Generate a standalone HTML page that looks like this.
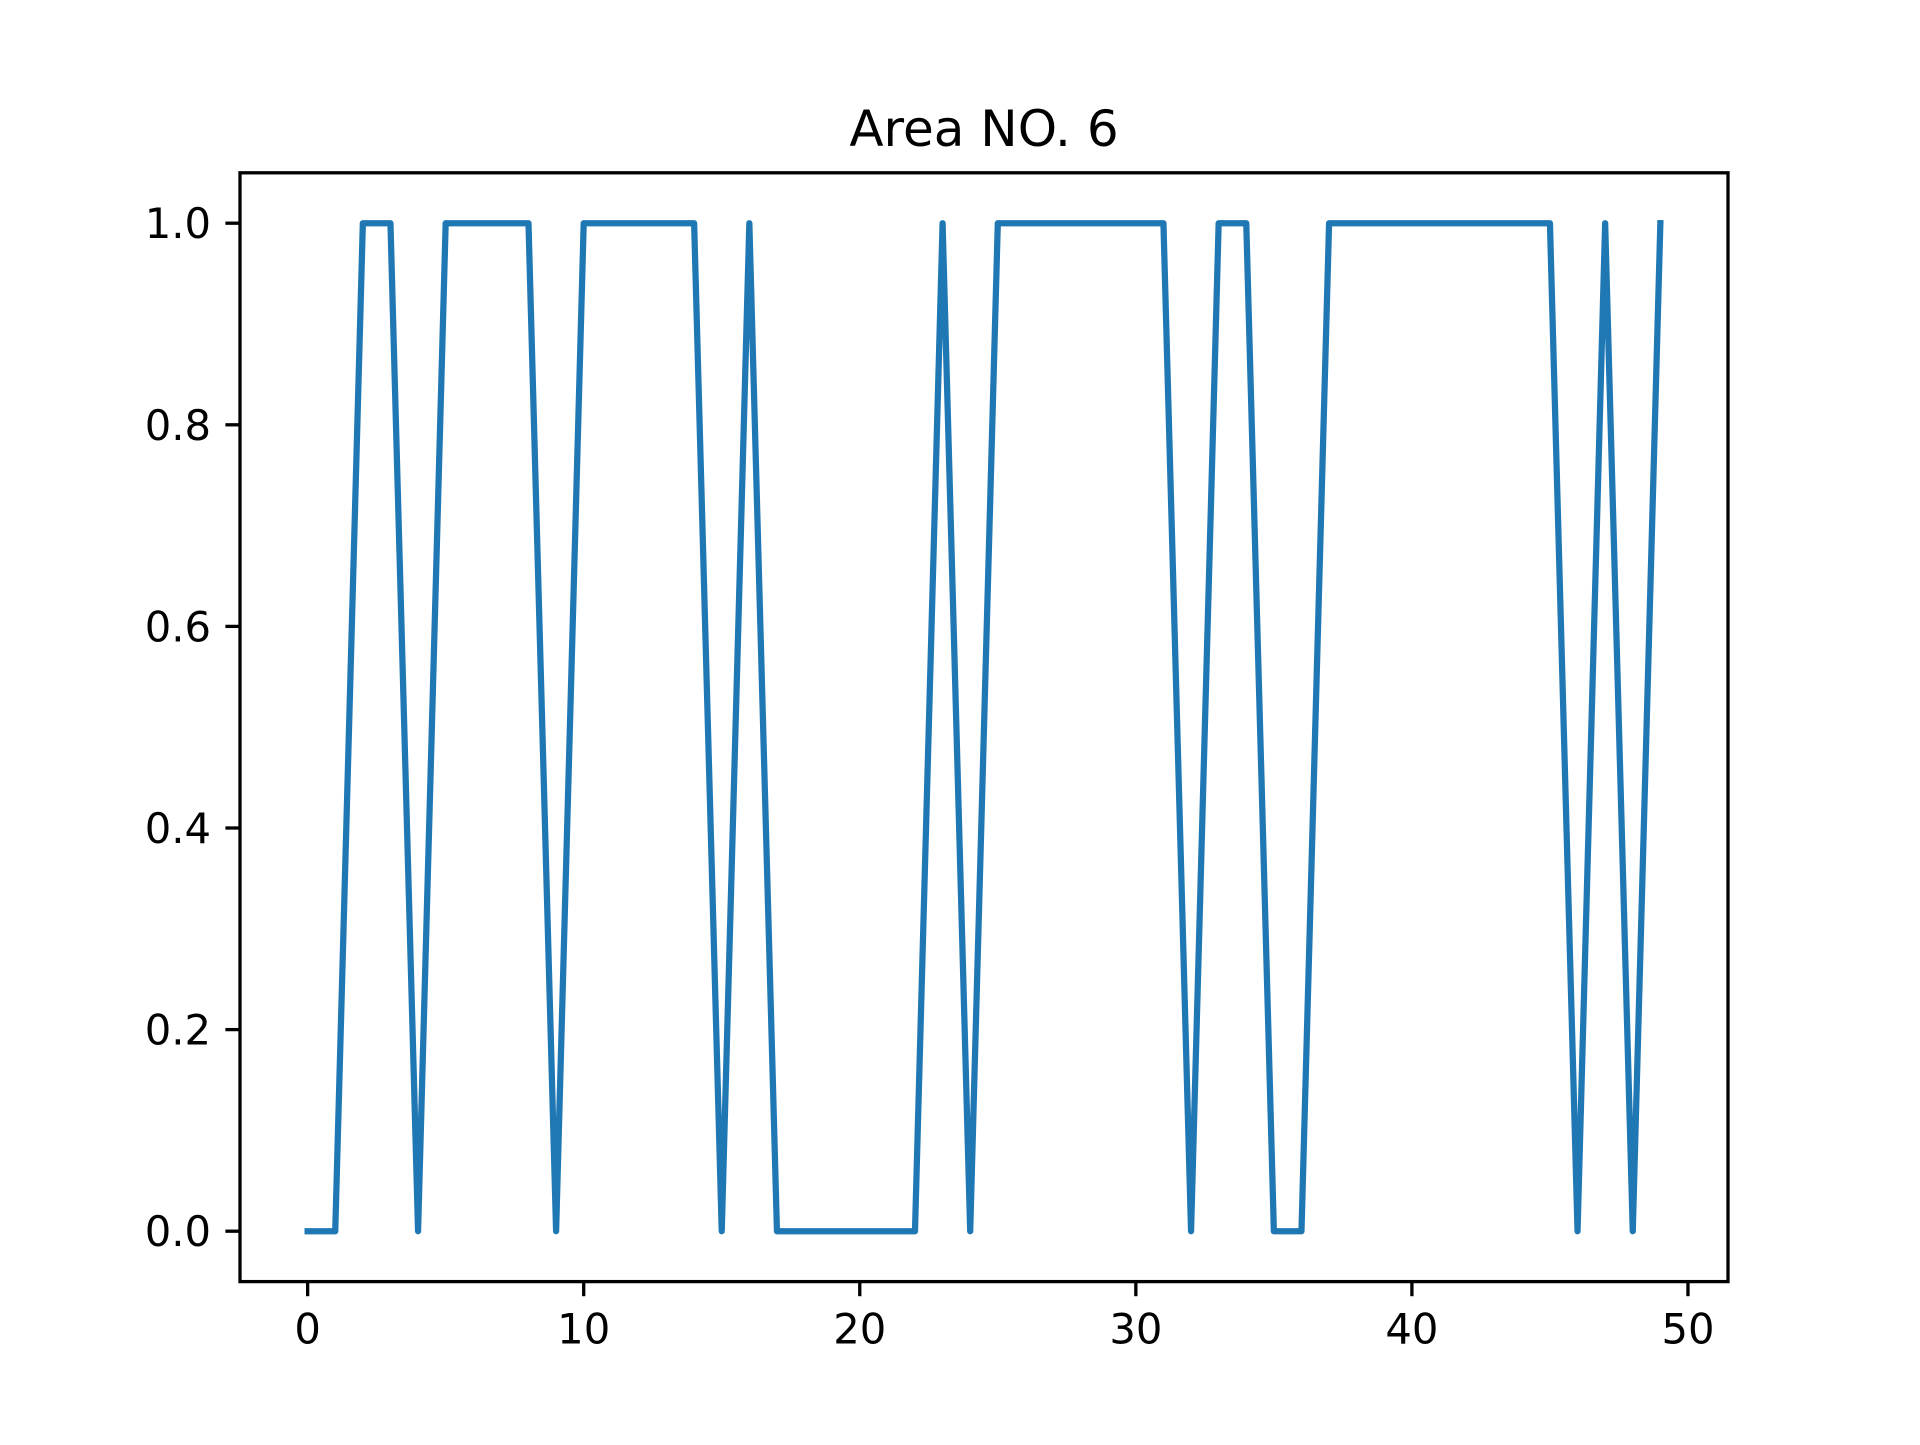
<!DOCTYPE html>
<html><head><meta charset="utf-8"><style>
html,body{margin:0;padding:0;background:#fff}
svg text{font-family:"DejaVu Sans","Liberation Sans",sans-serif;fill:#000}
</style></head><body>
<svg id="chart" width="1920" height="1440" viewBox="0 0 1920 1440" xmlns="http://www.w3.org/2000/svg">
<rect width="1920" height="1440" fill="#fff"/>
<text x="984" y="146" font-size="50" text-anchor="middle">Area NO. 6</text>
<g id="axes"></g>
</svg>
<script>
const xValues = [0,1,2,3,4,5,6,7,8,9,10,11,12,13,14,15,16,17,18,19,20,21,22,23,24,25,26,27,28,29,30,31,32,33,34,35,36,37,38,39,40,41,42,43,44,45,46,47,48,49];
const yValues = [0,0,1,1,0,1,1,1,1,0,1,1,1,1,1,0,1,0,0,0,0,0,0,1,0,1,1,1,1,1,1,1,0,1,1,0,0,1,1,1,1,1,1,1,1,1,0,1,0,1];
const xTicks = [0,10,20,30,40,50];
const yTicks = [0,0.2,0.4,0.6,0.8,1.0];
const yTickLabels = ["0.0","0.2","0.4","0.6","0.8","1.0"];

const L=240,R=1728,T=172.8,B=1281.6;
const xMin=-2.45,xMax=51.45,yMin=-0.05,yMax=1.05;
const xS=v=>L+(v-xMin)/(xMax-xMin)*(R-L);
const yS=v=>B-(v-yMin)/(yMax-yMin)*(B-T);
const NS='http://www.w3.org/2000/svg';
const g=document.getElementById('axes');
function mk(t,a){const e=document.createElementNS(NS,t);for(const k in a)e.setAttribute(k,a[k]);g.appendChild(e);return e;}

const pts=xValues.map((x,i)=>xS(x).toFixed(2)+','+yS(yValues[i]).toFixed(2)).join(' ');
const line=mk('polyline',{points:pts,fill:'none',stroke:'#1f77b4','stroke-width':6.25,'stroke-linejoin':'round','stroke-linecap':'square'});



const frame=mk('rect',{x:L,y:T,width:R-L,height:B-T,fill:'none',stroke:'#000','stroke-width':3.3});



xTicks.forEach(v=>{
  const x=xS(v);
  const tk=mk('line',{x1:x,x2:x,y1:B,y2:B+14.6,stroke:'#000','stroke-width':3.3});
  
  
  const t=mk('text',{x:x,y:B+62,'font-size':41.7,'text-anchor':'middle'});
  t.textContent=String(v);
  
  
});
yTicks.forEach((v,i)=>{
  const y=yS(v);
  const tk=mk('line',{x1:L-14.6,x2:L,y1:y,y2:y,stroke:'#000','stroke-width':3.3});
  
  
  const t=mk('text',{x:L-29,y:y+15,'font-size':41.7,'text-anchor':'end'});
  t.textContent=yTickLabels[i];
  
  
});
</script>
</body></html>
